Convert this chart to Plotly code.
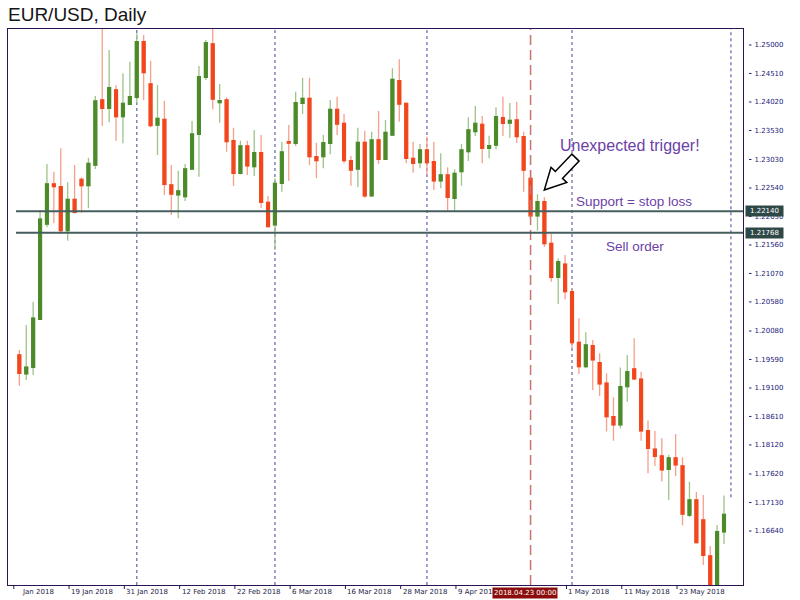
import plotly.graph_objects as go

# ---- EUR/USD daily session data -------------------------------------------
dates = [
    "2018-01-09", "2018-01-10", "2018-01-11", "2018-01-12", "2018-01-15", "2018-01-16",
    "2018-01-17", "2018-01-18", "2018-01-19", "2018-01-22", "2018-01-23", "2018-01-24",
    "2018-01-25", "2018-01-26", "2018-01-29", "2018-01-30", "2018-01-31", "2018-02-01",
    "2018-02-02", "2018-02-05", "2018-02-06", "2018-02-07", "2018-02-08", "2018-02-09",
    "2018-02-12", "2018-02-13", "2018-02-14", "2018-02-15", "2018-02-16", "2018-02-19",
    "2018-02-20", "2018-02-21", "2018-02-22", "2018-02-23", "2018-02-26", "2018-02-27",
    "2018-02-28", "2018-03-01", "2018-03-02", "2018-03-05", "2018-03-06", "2018-03-07",
    "2018-03-08", "2018-03-09", "2018-03-12", "2018-03-13", "2018-03-14", "2018-03-15",
    "2018-03-16", "2018-03-19", "2018-03-20", "2018-03-21", "2018-03-22", "2018-03-23",
    "2018-03-26", "2018-03-27", "2018-03-28", "2018-03-29", "2018-03-30", "2018-04-02",
    "2018-04-03", "2018-04-04", "2018-04-05", "2018-04-06", "2018-04-09", "2018-04-10",
    "2018-04-11", "2018-04-12", "2018-04-13", "2018-04-16", "2018-04-17", "2018-04-18",
    "2018-04-19", "2018-04-20", "2018-04-23", "2018-04-24", "2018-04-25", "2018-04-26",
    "2018-04-27", "2018-04-30", "2018-05-01", "2018-05-02", "2018-05-03", "2018-05-04",
    "2018-05-07", "2018-05-08", "2018-05-09", "2018-05-10", "2018-05-11", "2018-05-14",
    "2018-05-15", "2018-05-16", "2018-05-17", "2018-05-18", "2018-05-21", "2018-05-22",
    "2018-05-23", "2018-05-24", "2018-05-25", "2018-05-28", "2018-05-29", "2018-05-30",
    "2018-05-31",
]

opens = [
    1.19668, 1.19341, 1.19456, 1.20282, 1.21921, 1.22609, 1.22563, 1.21806, 1.22346, 1.22690,
    1.22580, 1.22936, 1.24054, 1.23911, 1.24226, 1.23767, 1.23980, 1.24101, 1.25057, 1.24329,
    1.23624, 1.23722, 1.22592, 1.22420, 1.22391, 1.22867, 1.23464, 1.24444, 1.25017, 1.24008,
    1.24054, 1.23354, 1.22793, 1.23263, 1.22907, 1.23148, 1.22291, 1.21904, 1.22621, 1.23337,
    1.23309, 1.23997, 1.24083, 1.23079, 1.23079, 1.23309, 1.23894, 1.23653, 1.23010, 1.22867,
    1.23326, 1.22403, 1.23366, 1.23034, 1.23452, 1.24386, 1.23997, 1.23051, 1.22976, 1.23194,
    1.22993, 1.22661, 1.22764, 1.22363, 1.22821, 1.23165, 1.23509, 1.23636, 1.23224, 1.23280,
    1.23750, 1.23658, 1.23710, 1.23423, 1.22707, 1.22059, 1.22305, 1.21586, 1.21004, 1.21228,
    1.20757, 1.19886, 1.19467, 1.19828, 1.19535, 1.19181, 1.18606, 1.18464, 1.19123, 1.19427,
    1.19250, 1.18366, 1.18047, 1.17931, 1.17702, 1.17896, 1.17759, 1.16911, 1.17174, 1.16830,
    1.16211, 1.15400, 1.16624,
]

highs = [
    1.19754, 1.20184, 1.20585, 1.22162, 1.22953, 1.22821, 1.23224, 1.22638, 1.22936, 1.22724,
    1.23062, 1.24123, 1.25370, 1.24914, 1.24307, 1.24513, 1.24713, 1.25201, 1.25172, 1.24730,
    1.24312, 1.24042, 1.22936, 1.22838, 1.22953, 1.23693, 1.24639, 1.25086, 1.25550, 1.24329,
    1.24101, 1.23578, 1.23354, 1.23354, 1.23538, 1.23452, 1.22403, 1.22707, 1.23337, 1.23624,
    1.24197, 1.24438, 1.24438, 1.23320, 1.23452, 1.24054, 1.24111, 1.23813, 1.23091, 1.23578,
    1.23526, 1.23509, 1.23865, 1.23710, 1.24599, 1.24754, 1.24002, 1.23337, 1.23297, 1.23423,
    1.23337, 1.23137, 1.22896, 1.22862, 1.23297, 1.23756, 1.23951, 1.23779, 1.23440, 1.23928,
    1.24111, 1.24002, 1.24025, 1.23509, 1.22850, 1.22432, 1.22380, 1.21761, 1.21331, 1.21388,
    1.20815, 1.20299, 1.20058, 1.19926, 1.19697, 1.19353, 1.18940, 1.19450, 1.19668, 1.19955,
    1.19380, 1.18541, 1.18366, 1.18235, 1.17948, 1.18309, 1.17908, 1.17488, 1.17312, 1.17260,
    1.16383, 1.16744, 1.17251,
]

lows = [
    1.19140, 1.19238, 1.19324, 1.20270, 1.21864, 1.21933, 1.21749, 1.21634, 1.22105, 1.22115,
    1.22191, 1.22867, 1.23607, 1.23670, 1.23354, 1.23309, 1.23968, 1.24002, 1.24054, 1.23584,
    1.23108, 1.22420, 1.22076, 1.22019, 1.22317, 1.22850, 1.22735, 1.24400, 1.23894, 1.23664,
    1.23165, 1.22575, 1.22776, 1.22764, 1.22747, 1.22196, 1.21864, 1.21474, 1.22477, 1.22661,
    1.23263, 1.23813, 1.22936, 1.22707, 1.22879, 1.23120, 1.23452, 1.22965, 1.22580, 1.22552,
    1.22374, 1.22394, 1.22953, 1.23031, 1.23443, 1.23681, 1.22965, 1.22804, 1.22879, 1.22781,
    1.22506, 1.22535, 1.22133, 1.22133, 1.22580, 1.23005, 1.23435, 1.22965, 1.23051, 1.23206,
    1.23435, 1.23400, 1.23314, 1.22477, 1.22047, 1.21806, 1.21526, 1.20929, 1.20545, 1.20626,
    1.19783, 1.19341, 1.19439, 1.19066, 1.18962, 1.18349, 1.18194, 1.18407, 1.18865, 1.19238,
    1.18194, 1.17633, 1.17759, 1.17492, 1.17174, 1.17587, 1.16738, 1.16882, 1.16430, 1.16056,
    1.15100, 1.15220, 1.16417,
]

closes = [
    1.19353, 1.19456, 1.20299, 1.22002, 1.22609, 1.22563, 1.21806, 1.22346, 1.22122, 1.22580,
    1.22965, 1.24037, 1.23911, 1.24266, 1.23767, 1.23997, 1.24111, 1.25057, 1.24524, 1.23612,
    1.23739, 1.22604, 1.22437, 1.22489, 1.22867, 1.23469, 1.24455, 1.25040, 1.24071, 1.24042,
    1.23337, 1.22793, 1.23263, 1.22919, 1.23148, 1.22291, 1.21878, 1.22621, 1.23160, 1.23314,
    1.24008, 1.24083, 1.23079, 1.23010, 1.23320, 1.23894, 1.23641, 1.23010, 1.22850, 1.23326,
    1.22403, 1.23366, 1.23034, 1.23498, 1.24410, 1.23985, 1.23051, 1.22965, 1.23194, 1.22976,
    1.22661, 1.22764, 1.22380, 1.22793, 1.23194, 1.23538, 1.23653, 1.23224, 1.23268, 1.23767,
    1.23653, 1.23701, 1.23423, 1.22850, 1.22059, 1.22305, 1.21582, 1.21001, 1.21273, 1.20757,
    1.19880, 1.19467, 1.19840, 1.19582, 1.19169, 1.18606, 1.18464, 1.19123, 1.19381, 1.19255,
    1.18361, 1.18060, 1.17925, 1.17690, 1.17896, 1.17776, 1.16930, 1.17174, 1.16440, 1.16222,
    1.15400, 1.16628, 1.16927,
]

# ---- price scale, levels and time labels -----------------------------------
price_ticks = [
    1.25000, 1.24510, 1.24020, 1.23530, 1.23030, 1.22540, 1.22050, 1.21560, 1.21070,
    1.20580, 1.20080, 1.19590, 1.19100, 1.18610, 1.18120, 1.17620, 1.17130, 1.16640,
]
support_level = 1.22140
sell_level = 1.21768
signal_date = "2018-04-23"
signal_label = "2018.04.23 00:00"
month_starts = ["2018-02-01", "2018-03-01", "2018-04-02", "2018-05-01"]
time_labels = [
    ("2018-01-09", "Jan 2018"),
    ("2018-01-19", "19 Jan 2018"),
    ("2018-01-31", "31 Jan 2018"),
    ("2018-02-12", "12 Feb 2018"),
    ("2018-02-22", "22 Feb 2018"),
    ("2018-03-06", "6 Mar 2018"),
    ("2018-03-16", "16 Mar 2018"),
    ("2018-03-28", "28 Mar 2018"),
    ("2018-04-09", "9 Apr 2018"),
    ("2018-05-01", "1 May 2018"),
    ("2018-05-11", "11 May 2018"),
    ("2018-05-23", "23 May 2018"),
]

# ---- styling ----------------------------------------------------------------
W, H = 800, 600
M_L, M_R, M_T, M_B = 8, 57, 29, 15
PLOT_W, PLOT_H = W - M_L - M_R, H - M_T - M_B

GREEN_BODY, GREEN_WICK = "#4c8a2a", "#9dc48a"
RED_BODY, RED_WICK = "#f2461c", "#f6a08c"
FRAME = "#2c1352"
AXIS_TEXT = "#20207a"
TIME_TEXT = "#1c1c48"
LEVEL_LINE = "#465f5e"
LEVEL_BOX = "#2e4847"
SEPARATOR = "#6f6fb3"
SIGNAL = "#c87272"
NOTE = "#6c3fa8"
SMALL_FONT = "DejaVu Sans"
TEXT_FONT = "Liberation Sans"


def px(x):
    """Horizontal pixel -> paper fraction."""
    return (x - M_L) / PLOT_W


def py(y):
    """Vertical pixel -> paper fraction."""
    return 1 - (y - M_T) / PLOT_H


def pos(d):
    return dates.index(d)


body_hi = [max(o, c) for o, c in zip(opens, closes)]
body_lo = [min(o, c) for o, c in zip(opens, closes)]

fig = go.Figure()

# wicks (light) underneath
fig.add_trace(go.Candlestick(
    x=dates, open=opens, high=highs, low=lows, close=closes,
    increasing=dict(line=dict(color=GREEN_WICK, width=1.3), fillcolor=GREEN_WICK),
    decreasing=dict(line=dict(color=RED_WICK, width=1.3), fillcolor=RED_WICK),
    whiskerwidth=0, showlegend=False, hoverinfo="skip",
))
# solid bodies on top
fig.add_trace(go.Candlestick(
    x=dates, open=opens, high=body_hi, low=body_lo, close=closes,
    increasing=dict(line=dict(color=GREEN_BODY, width=1.3), fillcolor=GREEN_BODY),
    decreasing=dict(line=dict(color=RED_BODY, width=1.3), fillcolor=RED_BODY),
    whiskerwidth=0, showlegend=False, name="EUR/USD",
))

shapes = []
# monthly period separators
for d in month_starts:
    shapes.append(dict(type="line", xref="x", yref="paper", x0=pos(d), x1=pos(d), y0=0, y1=1,
                       line=dict(color=SEPARATOR, width=1.3, dash="dot"), layer="below"))
# separator for the session after the last bar
shapes.append(dict(type="line", xref="x", yref="y", x0=len(dates), x1=len(dates),
                   y0=1.1722, y1=1.25275,
                   line=dict(color=SEPARATOR, width=1.3, dash="dot"), layer="below"))

# signal day marker
shapes.append(dict(type="line", xref="x", yref="paper", x0=pos(signal_date), x1=pos(signal_date),
                   y0=0, y1=1, line=dict(color=SIGNAL, width=1.5, dash="10px,5px")))

# support / sell levels
for lvl in (support_level, sell_level):
    shapes.append(dict(type="line", xref="x", yref="y", x0=-0.48, x1=104.75, y0=lvl, y1=lvl,
                       line=dict(color=LEVEL_LINE, width=2)))

# time-scale tick marks
for d, _ in time_labels:
    xp = pos(d) - 0.8
    shapes.append(dict(type="line", xref="x", yref="paper", x0=xp, x1=xp,
                       y0=0, y1=-4 / PLOT_H, line=dict(color=TIME_TEXT, width=1)))

# price-scale dashes next to each label
for v in price_ticks:
    shapes.append(dict(type="line", xref="paper", yref="y", x0=px(749), x1=px(751.5),
                       y0=v, y1=v, line=dict(color=AXIS_TEXT, width=1)))

# hollow arrow pointing at the trigger candle
arrow_pts = [(544.3, 190.0), (566.8, 182.5), (562.5, 178.4), (579.1, 161.1),
             (571.9, 154.1), (555.3, 171.4), (551.0, 167.3)]
path = "M " + " L ".join(f"{px(x):.5f},{py(y):.5f}" for x, y in arrow_pts) + " Z"
shapes.append(dict(type="path", xref="paper", yref="paper", path=path,
                   fillcolor="white", line=dict(color="black", width=1.5)))

annotations = [
    dict(text="EUR/USD, Daily", xref="paper", yref="paper", x=px(6), y=py(15),
         xanchor="left", yanchor="middle", showarrow=False,
         font=dict(family=TEXT_FONT, size=19, color="#151515")),
    dict(text="Unexpected trigger!", xref="paper", yref="paper", x=px(630), y=py(145),
         xanchor="center", yanchor="middle", showarrow=False,
         font=dict(family=TEXT_FONT, size=16, color=NOTE)),
    dict(text="Support = stop loss", xref="paper", yref="paper", x=px(634), y=py(201),
         xanchor="center", yanchor="middle", showarrow=False,
         font=dict(family=TEXT_FONT, size=13.5, color=NOTE)),
    dict(text="Sell order", xref="paper", yref="paper", x=px(634.5), y=py(246),
         xanchor="center", yanchor="middle", showarrow=False,
         font=dict(family=TEXT_FONT, size=13.5, color=NOTE)),
]

for d, label in time_labels:
    xp = pos(d) - 0.8
    if label == "Jan 2018":
        xp = pos(d) + 0.05
    annotations.append(dict(text=label, xref="x", yref="paper", x=xp, y=py(592),
                            xanchor="left", yanchor="middle", showarrow=False,
                            font=dict(family=SMALL_FONT, size=7, color=TIME_TEXT)))

for lvl in (support_level, sell_level):
    annotations.append(dict(text=f"{lvl:.5f}", xref="paper", yref="y", x=px(744.5), y=lvl,
                            xanchor="left", yanchor="middle", showarrow=False,
                            bgcolor=LEVEL_BOX, borderpad=1, width=35,
                            font=dict(family=SMALL_FONT, size=7, color="white")))

annotations.append(dict(text=signal_label, xref="x", yref="paper", x=pos(signal_date), xshift=-6,
                        y=py(592.5), xanchor="center", yanchor="middle", showarrow=False,
                        bgcolor="#8a0c0c", borderpad=1,
                        font=dict(family=SMALL_FONT, size=7, color="white")))

fig.update_layout(
    width=W, height=H,
    margin=dict(l=M_L, r=M_R, t=M_T, b=M_B),
    paper_bgcolor="white", plot_bgcolor="white",
    showlegend=False, boxgap=0.42,
    shapes=shapes, annotations=annotations,
    xaxis=dict(type="category", categoryorder="array", categoryarray=dates,
               range=[-1.64, 104.75], showticklabels=False, ticks="", showgrid=False,
               zeroline=False, showline=True, mirror=True, linecolor=FRAME, linewidth=1.3,
               rangeslider=dict(visible=False)),
    yaxis=dict(side="right", range=[1.157105, 1.252752], tickvals=price_ticks,
               ticktext=[f"{v:.5f}" for v in price_ticks], ticks="", showgrid=False,
               zeroline=False, showline=True, mirror=True, linecolor=FRAME, linewidth=1.3,
               ticklabelstandoff=9,
               tickfont=dict(family=SMALL_FONT, size=7, color=AXIS_TEXT)),
)

fig.write_html("out.html")
